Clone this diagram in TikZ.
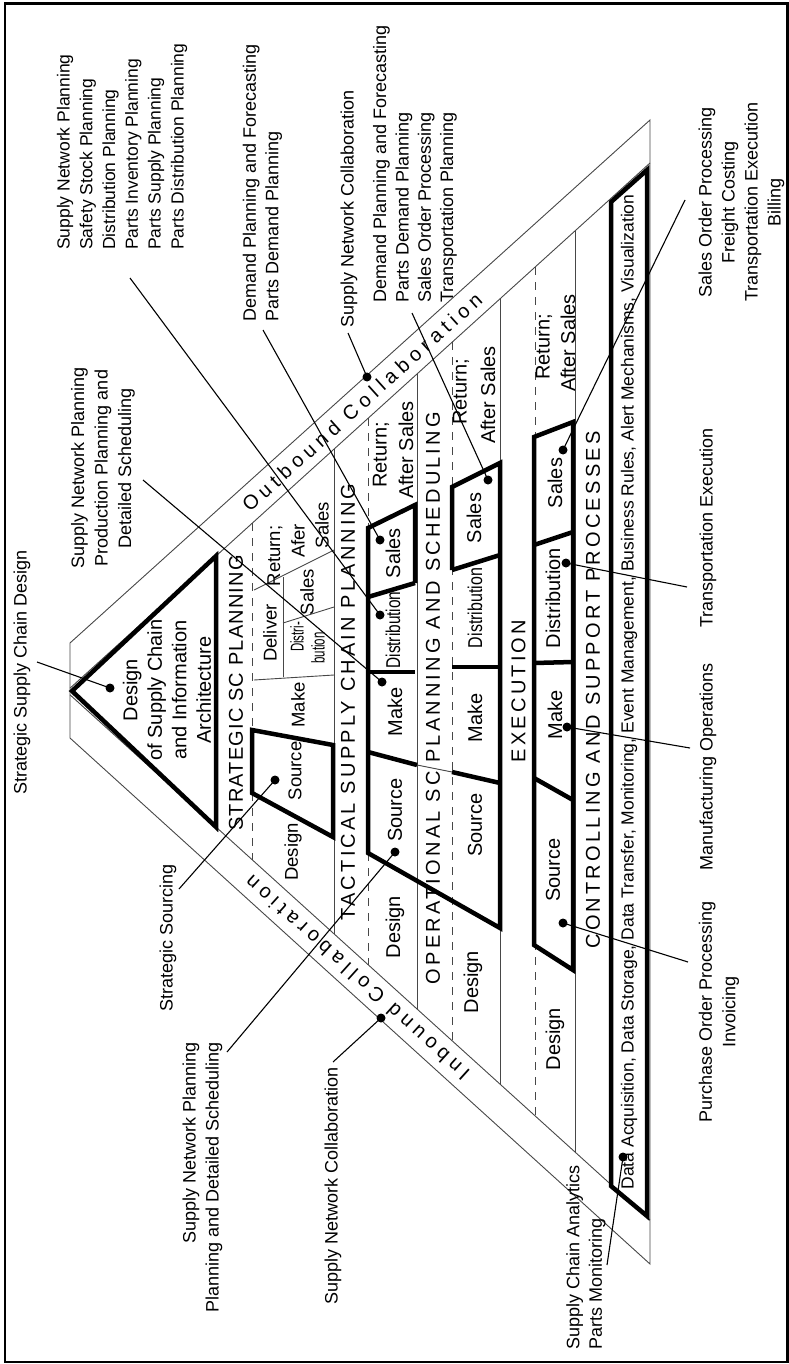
\documentclass[tikz,border=0pt]{standalone}
\usepackage{fontspec}
\setmainfont{Liberation Sans}
\usepackage{graphicx}

% font helpers
\newcommand{\lblf}[2]{\fontsize{#1}{#2}\selectfont}
\newcommand{\cellf}{\fontsize{20}{24}\selectfont}
\newcommand{\scellf}{\fontsize{18.5}{22}\selectfont}
\newcommand{\ttlf}[1]{\fontsize{20}{24}\selectfont\addfontfeature{LetterSpace=#1}}
\newcommand{\bandf}{\fontsize{20}{22}\selectfont\addfontfeature{LetterSpace=26}}

\begin{document}
\begin{tikzpicture}[x=1pt,y=-1pt,
  thinline/.style={draw=black!72, line width=0.9pt},
  dashline/.style={draw=black!72, line width=0.9pt, dash pattern=on 8pt off 7pt},
  boldline/.style={draw=black, line width=4.5pt, line join=miter},
  callout/.style={draw=black, line width=1.1pt},
  dot/.style={circle, fill=black, inner sep=0pt, minimum size=9pt},
  vtext/.style={rotate=90, inner sep=0pt},
]
\useasboundingbox (0,0) rectangle (788,1364);
% frame
\draw[line width=2.5pt] (5,3.5) rectangle (787.5,1362);

% collaboration band: outer and inner edges
\coordinate (oTL) at (70,643);
\coordinate (oBL) at (70,738);
\coordinate (oTR) at (650,120);
\coordinate (oBR) at (650,1264);
\coordinate (iU0) at (70,688.2);
\coordinate (iU1) at (650,163);
\coordinate (iL0) at (70,694.8);
\coordinate (iL1) at (650,1219.9);
\draw[thinline] (oBL) -- (oTL) -- (oTR) -- (oBR) -- cycle;
\draw[thinline] (iU0) -- (iU1);
\draw[thinline] (iL0) -- (iL1);

% level boundaries
\draw[thinline] (334,449.2) -- (334,933.8);
\draw[thinline] (417,374.0) -- (417,1009.0);
\draw[thinline] (500,298.9) -- (500,1084.1);
\draw[thinline] (575,231.0) -- (575,1152.0);

% dashed title separators
\draw[dashline] (252,523.4) -- (252,859.6);
\draw[dashline] (368,418.4) -- (368,964.6);
\draw[dashline] (452,342.3) -- (452,1040.7);
\draw[dashline] (535,267.2) -- (535,1115.8);

% strategic cells
\draw[thinline] (254,590) -- (334,550);
\draw[thinline] (283,577) -- (283,677);
\draw[thinline] (283,623) -- (334,607);
\draw[thinline] (254,680) -- (334,675);
\draw[thinline] (417,765) -- (452,772);

% bold outlines
\draw[boldline] (72,691) -- (216,556) -- (216,827) -- cycle;
\draw[boldline] (252,730) -- (333,745) -- (333,837) -- (252,793) -- cycle;
\draw[boldline] (415,583) -- (415,505) -- (368,528) -- (368,853) -- (500,928)
  -- (500,463) -- (452,487) -- (452,570);
\draw[boldline] (368,597) -- (415,583);
\draw[boldline] (368,672) -- (415,672);
\draw[boldline] (368,752) -- (417,765);
\draw[boldline] (452,570) -- (500,555);
\draw[boldline] (452,667) -- (500,667);
\draw[boldline] (452,772) -- (500,783);
\draw[boldline] (534,437) -- (573,422) -- (573,970) -- (534,945) -- cycle;
\draw[boldline] (534,545) -- (573,532);
\draw[boldline] (534,663) -- (573,662);
\draw[boldline] (534,778) -- (573,800);
\draw[boldline] (611,202) -- (647,170) -- (647,1216) -- (611,1186) -- cycle;

% design triangle
\node[vtext, align=center, font={\lblf{20}{24.5}}] (design) at (167,690)
  {Design\\of Supply Chain\\and Information\\Architecture};

% level titles
\node[vtext] (tStrat) at (236,693) {\ttlf{6}STRATEGIC SC PLANNING};
\node[vtext] (tTact) at (348,702) {\ttlf{16}TACTICAL SUPPLY CHAIN PLANNING};
\node[vtext] (tOper) at (433,698) {\ttlf{16}OPERATIONAL SC PLANNING AND SCHEDULING};
\node[vtext] (tExec) at (518.5,691) {\ttlf{16}EXECUTION};
\node[vtext] (tCtrl) at (593,690) {\ttlf{16}CONTROLLING AND SUPPORT PROCESSES};

% strategic cell texts
\node[vtext, font=\scellf] (sDesign) at (293,852) {Design};
\node[vtext, font=\scellf] (sSource) at (295,771) {Source};
\node[vtext, font=\scellf] (sMake) at (298,705) {Make};
\node[vtext, font=\scellf] (sDeliver) at (270,633) {Deliver};
\node[vtext, font=\scellf] (sDistri) at (297,637) {\scalebox{0.62}[1]{Distri-}};
\node[vtext, font=\scellf] (sBution) at (318,648) {\scalebox{0.62}[1]{bution}};
\node[vtext, font=\scellf] (sSales) at (307,592) {Sales};
\node[vtext, font=\scellf] (sReturn) at (275,556) {Return;};
\node[vtext, font=\scellf] (sAfer) at (298,541) {Afer};
\node[vtext, font=\scellf] (sSalesR) at (322,525) {Sales};

% tactical cell texts
\node[vtext, font=\cellf] (tSales) at (393,553) {Sales};
\node[vtext, font=\cellf] (tDist) at (393,630) {\scalebox{0.77}[1]{Distribution}};
\node[vtext, font=\cellf] (tMake) at (395,712) {Make};
\node[vtext, font=\cellf] (tSource) at (395,810) {Source};
\node[vtext, font=\cellf] (tDesign) at (395,927) {Design};
\node[vtext, font=\cellf] (tReturn) at (381,455) {Return;};
\node[vtext, font=\cellf] (tAfter) at (406,450) {After Sales};

% operational cell texts
\node[vtext, font=\cellf] (oSales) at (474,518) {Sales};
\node[vtext, font=\cellf] (oDist) at (475,608) {\scalebox{0.8}[1]{Distribution}};
\node[vtext, font=\cellf] (oMake) at (475,718) {Make};
\node[vtext, font=\cellf] (oSource) at (475,825) {Source};
\node[vtext, font=\cellf] (oDesign) at (473,982) {Design};
\node[vtext, font=\cellf] (oReturn) at (461,392) {Return;};
\node[vtext, font=\cellf] (oAfter) at (488,395) {After Sales};

% execution cell texts
\node[vtext, font=\cellf] (eSales) at (555,483) {Sales};
\node[vtext, font=\cellf] (eDist) at (553,598) {Distribution};
\node[vtext, font=\cellf] (eMake) at (555,715) {Make};
\node[vtext, font=\cellf] (eSource) at (553,870) {Source};
\node[vtext, font=\cellf] (eDesign) at (555,1039) {Design};
\node[vtext, font=\cellf] (eReturn) at (544,347) {Return;};
\node[vtext, font=\cellf] (eAfter) at (568,343) {After Sales};

% support functions
\node[vtext] (data) at (629,692) {\resizebox{995pt}{!}{\fontsize{16}{18}\selectfont Data Acquisition, Data Storage, Data Transfer, Monitoring, Event Management, Business Rules, Alert Mechanisms, Visualization}};

% collaboration band texts
\node[rotate=42.1, inner sep=0pt] (outb) at (362,402) {\bandf Outbound Collaboration};
\node[rotate=137.9, inner sep=0pt] (inb) at (357,978) {\bandf Inbound Collaboration};

% outside labels
\node[vtext, anchor=west, align=left, font={\lblf{17.5}{22.8}}] (lblA) at (122,250)
  {Supply Network Planning\\Safety Stock Planning\\Distribution Planning\\Parts Inventory Planning\\Parts Supply Planning\\Parts Distribution Planning};
\node[vtext, anchor=west, align=left, font={\lblf{18}{22.5}}] (lblB) at (262.5,322)
  {Demand Planning and Forecasting\\Parts Demand Planning};
\node[vtext, anchor=west, font={\lblf{18}{22}}] (lblC) at (349,328) {Supply Network Collaboration};
\node[vtext, anchor=west, align=left, font={\lblf{18}{22.3}}] (lblD) at (415,303)
  {Demand Planning and Forecasting\\Parts Demand Planning\\Sales Order Processing\\Transportation Planning};
\node[vtext, align=center, font={\lblf{18}{23.5}}] (lblE) at (103,468)
  {Supply Network Planning\\Production Planning and\\Detailed Scheduling};
\node[vtext, font={\lblf{18}{22}}] (lblF) at (22,672) {Strategic Supply Chain Design};
\node[vtext, font={\lblf{18}{22}}] (lblG) at (168,938) {Strategic Sourcing};
\node[vtext, anchor=east, align=right, font={\lblf{18}{23}}] (lblH) at (202.5,1042)
  {Supply Network Planning\\Planning and Detailed Scheduling};
\node[vtext, font={\lblf{18}{22}}] (lblI) at (333,1186) {Supply Network Collaboration};
\node[vtext, anchor=west, align=left, font={\lblf{18}{22.5}}] (lblJ) at (586,1350)
  {Supply Chain Analytics\\Parts Monitoring};
\node[vtext, align=center, font={\lblf{18}{23.5}}] (lblK) at (719,1012)
  {Purchase Order Processing\\Invoicing};
\node[vtext, font={\lblf{18}{22}}] (lblL) at (708,767) {Manufacturing Operations};
\node[vtext, font={\lblf{18}{22}}] (lblM) at (708,528) {Transportation Execution};
\node[vtext, align=center, font={\lblf{18}{23}}] (lblN) at (741.5,202)
  {Sales Order Processing\\Freight Costing\\Transportation Execution\\Billing};

% callout dots
\node[dot] (dA) at (380,615) {};
\node[dot] (dB) at (380,540) {};
\node[dot] (dC) at (367,377) {};
\node[dot] (dD) at (488,480) {};
\node[dot] (dE) at (382,682) {};
\node[dot] (dF) at (110,688) {};
\node[dot] (dG) at (275,780) {};
\node[dot] (dH) at (395,852) {};
\node[dot] (dI) at (381,1018) {};
\node[dot] (dJ) at (623,1157) {};
\node[dot] (dK) at (563,923) {};
\node[dot] (dL) at (567,727) {};
\node[dot] (dM) at (566,563) {};
\node[dot] (dN) at (563,450) {};

% callout line ends near the labels
\coordinate (cA) at (130,278);
\coordinate (cB) at (263,330);
\coordinate (cC) at (348,333);
\coordinate (cD) at (412,313);
\coordinate (cE) at (143,480);
\coordinate (cF) at (37,662);
\coordinate (cG) at (179,889);
\coordinate (cH) at (227,1052);
\coordinate (cI) at (333,1062);
\coordinate (cJ) at (607,1265);
\coordinate (cK) at (688,962);
\coordinate (cL) at (690,748);
\coordinate (cM) at (687,587);
\coordinate (cN) at (685,200);

\foreach \k in {A,B,C,D,E,F,G,H,I,J,K,L,M,N}
  \draw[callout] (c\k) -- (d\k.center);
\end{tikzpicture}
\end{document}
